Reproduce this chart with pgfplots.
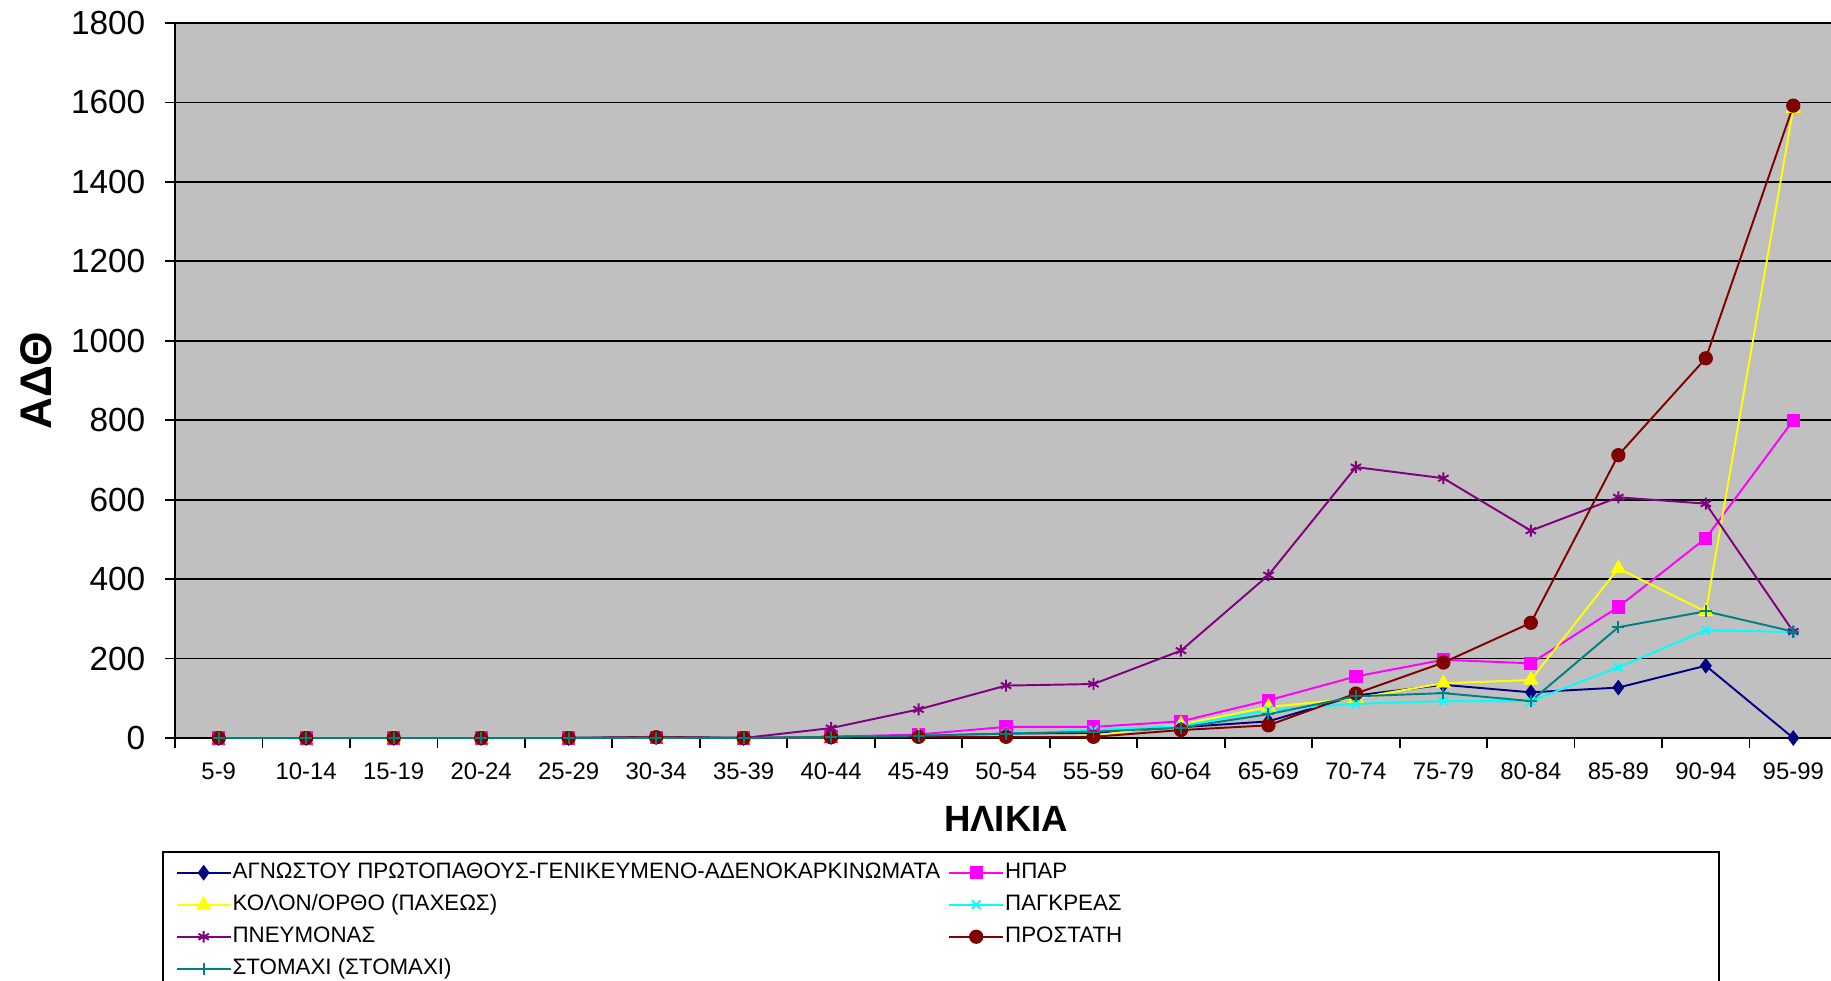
\documentclass[border=0pt]{standalone}
\usepackage{pgfplots}
\pgfplotsset{compat=1.18}
\usepackage{pgfplotstable}
\usepackage{fontspec}
\setmainfont{Liberation Sans}

\definecolor{bgray}{RGB}{192,192,192}
\definecolor{cnavy}{RGB}{0,0,128}
\definecolor{cmag}{RGB}{255,0,255}
\definecolor{cyel}{RGB}{255,255,0}
\definecolor{ccyan}{RGB}{0,255,255}
\definecolor{cpurp}{RGB}{128,0,128}
\definecolor{cdred}{RGB}{128,0,0}
\definecolor{cteal}{RGB}{0,128,128}

% age groups 5-9 ... 95-99 at x = 0..18
\pgfplotstableread{
x  agn  hpar kolon pagk pneum prost stom
0  0    0    0     0    0     0     0
1  0    0    0     0    0     0     0
2  0    0    0     0    0     0     0
3  0    0    0     0    0     0     0
4  0    0    0     0    0     0     0
5  2    1    1     1    3     2     1
6  0    0    0     0    0     0     0
7  3    3    2     2    25    2     3
8  5    9    4     5    72    3     6
9  11   28   5     10   132   3     11
10 13   28   6     20   136   3     16
11 27   42   34    30   220   20    26
12 42   95   78    70   410   32    60
13 107  155  100   86   682   112   105
14 134  197  138   93   654   190   113
15 115  188  146   93   522   290   93
16 127  330  427   178  606   712   279
17 182  503  318   271  590   956   319
18 0    800  1585  267  268   1592  268
}\adth

\begin{document}
\begin{tikzpicture}
\begin{axis}[
    at={(0,0)}, anchor=south west,
    scale only axis,
    width=166.2mm, height=71.5mm,
    xmin=-0.5, xmax=18.5,
    ymin=0, ymax=1800,
    axis lines=left,
    axis line style={-, black, line width=0.6pt},
    axis background/.style={fill=bgray},
    clip=false,
    ytick={0,200,400,600,800,1000,1200,1400,1600,1800},
    xtick={-0.5,0.5,1.5,2.5,3.5,4.5,5.5,6.5,7.5,8.5,9.5,10.5,11.5,12.5,13.5,14.5,15.5,16.5,17.5,18.5},
    x tick label as interval,
    xticklabels={5-9,10-14,15-19,20-24,25-29,30-34,35-39,40-44,45-49,50-54,55-59,60-64,65-69,70-74,75-79,80-84,85-89,90-94,95-99},
    tick align=outside,
    major tick length=1mm,
    tick style={black, line width=0.5pt},
    ymajorgrids,
    major grid style={black, line width=0.5pt},
    /pgf/number format/assume math mode=true,
    /pgf/number format/1000 sep={},
    yticklabel style={font=\fontsize{9.5}{11}\selectfont, anchor=east, inner sep=0pt, xshift=-1.9mm},
    xticklabel style={font=\fontsize{6.8}{8}\selectfont, anchor=center, inner sep=0pt, yshift=-2.3mm},
    ylabel={ΑΔΘ},
    ylabel style={at={(axis description cs:0,0.5)}, anchor=center, yshift=13.9mm, font=\fontsize{12.6}{14}\selectfont\bfseries},
    xlabel={ΗΛΙΚΙΑ},
    xlabel style={at={(axis description cs:0.5,0)}, anchor=center, yshift=-8.1mm, font=\fontsize{10.4}{12}\selectfont\bfseries},
    legend columns=2,
    legend style={at={(axis description cs:0,0)}, anchor=north west, yshift=-12.35mm,
        draw=none, fill=none, inner sep=0pt,
        font=\fontsize{6.35}{7}\selectfont,
        nodes={inner sep=0pt, text height=1.6mm, text depth=0.5mm},
        row sep=1.1mm,
        /tikz/every odd column/.style={column sep=0.1mm},
        /tikz/every even column/.style={column sep=0.8mm}},
    legend cell align=left,
    legend image code/.code={\draw[mark repeat=2, mark phase=2] plot coordinates {(0mm,0mm) (2.7mm,0mm) (5.4mm,0mm)};},
    every axis plot/.append style={line width=0.55pt},
]
\addplot[cnavy, mark=diamond*, mark size=1.8pt, mark options={solid, fill=cnavy}] table[x=x, y=agn] {\adth};
\addlegendentry{ΑΓΝΩΣΤΟΥ ΠΡΩΤΟΠΑΘΟΥΣ-ΓΕΝΙΚΕΥΜΕΝΟ-ΑΔΕΝΟΚΑΡΚΙΝΩΜΑΤΑ}
\addplot[cmag, mark=square*, mark size=1.6pt, mark options={solid, fill=cmag}] table[x=x, y=hpar] {\adth};
\addlegendentry{ΗΠΑΡ}
\addplot[cyel, mark=triangle*, mark size=2pt, mark options={solid, fill=cyel}] table[x=x, y=kolon] {\adth};
\addlegendentry{ΚΟΛΟΝ/ΟΡΘΟ (ΠΑΧΕΩΣ)}
\addplot[ccyan, mark=x, mark size=1.7pt, mark options={solid}] table[x=x, y=pagk] {\adth};
\addlegendentry{ΠΑΓΚΡΕΑΣ}
\addplot[cpurp, mark=asterisk, mark size=1.7pt, mark options={solid}] table[x=x, y=pneum] {\adth};
\addlegendentry{ΠΝΕΥΜΟΝΑΣ}
\addplot[cdred, mark=*, mark size=1.75pt, mark options={solid, fill=cdred}] table[x=x, y=prost] {\adth};
\addlegendentry{ΠΡΟΣΤΑΤΗ}
\addplot[cteal, mark=+, mark size=1.7pt, mark options={solid}] table[x=x, y=stom] {\adth};
\addlegendentry{ΣΤΟΜΑΧΙ (ΣΤΟΜΑΧΙ)}
\end{axis}
% legend frame, open at the bottom where the reference is cut off
\draw[black, line width=0.6pt] (-1.2mm,-25mm) -- (-1.2mm,-11.4mm) -- (154.4mm,-11.4mm) -- (154.4mm,-25mm);
\pgfresetboundingbox
\useasboundingbox (-17.5mm,-24.2mm) rectangle (165.6mm,73.8mm);
\end{tikzpicture}
\end{document}
